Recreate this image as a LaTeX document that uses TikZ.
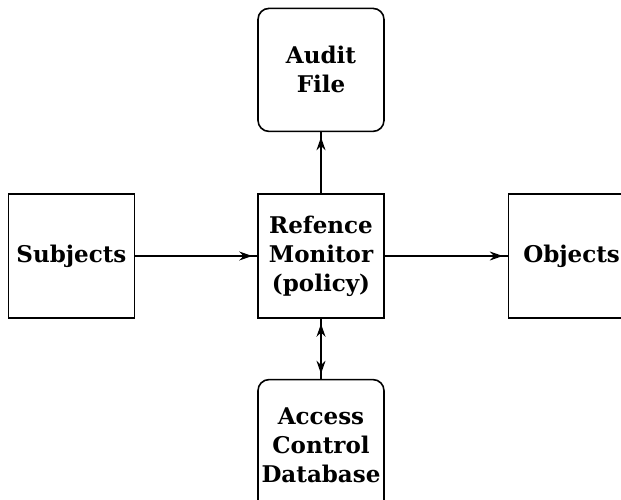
\documentclass[tikz,border=0pt]{standalone}
\usepackage{fontspec}
\setmainfont{DejaVu Serif}
\usetikzlibrary{arrows.meta, positioning}

\begin{document}
\begin{tikzpicture}[x=1pt, y=1pt,
  every node/.style={font=\fontsize{23}{29}\selectfont\bfseries, align=center},
  box/.style={rectangle, draw, line width=1.6pt, minimum width=126pt, minimum height=124pt, inner sep=1pt},
  store/.style={box, rounded corners=11pt, minimum height=123pt},
  flow/.style={line width=1.3pt, -{Stealth[length=13pt,width=9pt,sep=0pt]Rectangle[length=5pt,width=0.4pt]}},
  twoway/.style={line width=1.3pt, {Rectangle[length=5pt,width=0.4pt]Stealth[length=13pt,width=9pt,sep=0pt]}-{Stealth[length=13pt,width=9pt,sep=0pt]Rectangle[length=5pt,width=0.4pt]}}]
\useasboundingbox (0,0) rectangle (621,499);
% monitor in the middle, the rest around it
\node[box] (mon) at (321,243) {Refence\\Monitor\\(policy)};
\node[box, left=122pt of mon] (subj) {Subjects};
\node[box, right=123pt of mon] (obj) {Objects};
\node[store, above=61pt of mon] (audit) {Audit\\File};
\node[store, below=60pt of mon, minimum height=132pt, text depth=-6pt] (acdb) {Access\\Control\\Database};
% connections
\draw[flow] (subj) -- (mon);
\draw[flow] (mon) -- (obj);
\draw[flow] (mon) -- (audit);
\draw[twoway] (mon) -- (acdb);
\end{tikzpicture}
\end{document}
